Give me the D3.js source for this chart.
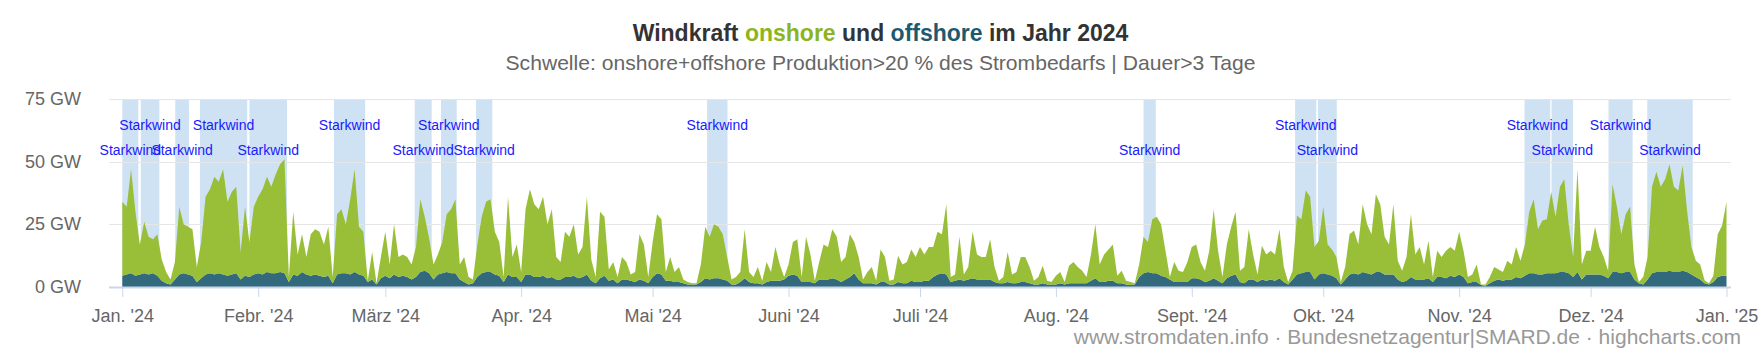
<!DOCTYPE html>
<html>
<head>
<meta charset="utf-8">
<script src="https://cdn.jsdelivr.net/npm/d3@7"></script>
<style>
  body { margin: 0; background: #fff; }
  svg { font-family: "Liberation Sans", Arial, sans-serif; display: block; }
</style>
</head>
<body>
<div id="chart"></div>
<script>

const startDate = '2024-01-01';

const offshore = [
  4.5, 5, 5.5, 4.5, 5, 5.5, 5, 5.5, 4.5, 2.5, 1.5, 1, 3, 5, 5.5, 5, 4.5, 2, 3.5, 5, 5.5, 5, 5.5, 5, 4.5, 5, 5.5, 3, 4.5, 4, 5,
  5.5, 5, 6, 5.5, 5.5, 6, 5.5, 2, 5, 4.5, 6, 5, 4.5, 5, 4.5, 4, 4.5, 1.5, 5, 5.5, 5.5, 5, 6, 5, 4.5, 2, 3, 1, 3.5,
  4.5, 3.5, 5, 4, 4.5, 4, 3, 4, 6, 6.5, 5.5, 3, 5, 5.5, 6, 5.5, 5.5, 3, 2, 1, 1.5, 4, 5.5, 6, 6, 5, 4.5, 2, 5, 4, 4,
  2, 5, 5, 4, 4, 4.5, 3.5, 4, 3, 3, 4, 4, 4.5, 3.5, 4, 5, 2.5, 1.5, 3.5, 4.5, 2.5, 3, 1.5, 3, 3, 2.5, 2, 3, 2.5, 1.5,
  4, 5.5, 5, 2.5, 2.5, 2, 2, 1.5, 1, 1, 1, 2, 3.5, 3, 3.5, 3.5, 3, 2.5, 1, 1, 2, 3.5, 2, 1.5, 1.5, 1, 2, 2.5, 2.5, 2.5, 3,
  4.5, 5, 4.5, 2, 2, 2, 1.5, 3, 3, 3, 3.5, 3, 2, 3, 4, 5.5, 3, 1.5, 1.5, 1.5, 1, 2, 2, 1, 1, 2, 1.5, 1.5, 2.5, 2,
  2, 2.5, 2.5, 4, 5, 5.5, 5, 2, 2.5, 3, 2.5, 3, 3.5, 3, 3, 3, 3, 2, 1.5, 1.5, 2, 1.5, 1.5, 2, 2, 1.5, 1, 1, 1.5, 1, 1,
  1, 1.5, 1, 1.5, 1.5, 1.5, 1.5, 1.5, 2.5, 3.5, 2, 2, 2.5, 2.5, 1.5, 1.5, 1, 0.8, 1, 4, 5.5, 6, 5.5, 5.5, 4.5, 4, 3, 2, 2, 2, 2,
  3.5, 3.5, 3, 2, 2.5, 3.5, 2.5, 1.5, 3.5, 4.5, 5, 2, 1.5, 3, 3, 2, 3, 2.5, 3, 2.5, 3.5, 2, 1, 3, 5, 5.5, 6, 6, 3, 5,
  5.5, 5, 4.5, 3.5, 1, 3, 5, 5.5, 5, 6, 5.5, 5, 6, 6, 5, 5, 5, 3, 2, 2.5, 4, 3, 3, 3, 3.5, 2, 4, 4, 3.5, 4.5, 4,
  5, 4, 1.5, 2, 2, 0.8, 0.5, 1.5, 2.5, 3, 2.5, 3, 3, 4, 3.5, 4.5, 5.5, 5.5, 5, 5, 5.5, 5.5, 5.5, 6, 6, 5.5, 4, 6, 3, 5, 5,
  5, 5, 4.5, 3.5, 6, 6, 5.5, 6, 6, 3, 1.5, 1, 3, 5.5, 6, 6, 6, 6.5, 6, 6, 6.5, 6, 5, 4, 3, 1.5, 1, 2, 4, 4.5, 4.5
];

const onshore = [
  29.5, 27, 41.5, 25.5, 12, 20.5, 15, 13.5, 16.5, 8.5, 4.5, 2, 7, 27, 19.5, 19, 18.5, 6, 14.5, 31, 33.5, 39, 36.5, 42, 29.5, 33, 34.5, 11, 27.5, 14, 27,
  30.5, 34, 38, 34.5, 39.5, 43, 45.5, 2, 25, 8.5, 15, 7, 16.5, 18, 17.5, 13, 19.5, 2.5, 24, 25.5, 19.5, 30, 41, 19, 17.5, 0.5, 11, 0.5, 8.5,
  17.5, 5.5, 20, 8, 8.5, 8, 6, 12, 29, 21.5, 14, 6, 8, 12.5, 23, 25.5, 29.5, 6, 10, 3, 1.5, 13, 22.5, 28, 29, 17, 13.5, 2, 31, 8, 13,
  4, 26, 34, 29, 27, 31.5, 21.5, 27, 9, 7, 18, 16, 20.5, 9.5, 12, 31, 8.5, 2.5, 26.5, 23.5, 4.5, 7, 2.5, 9, 7, 2.5, 4, 18, 14.5, 2.5,
  14, 23.5, 22, 3.5, 9.5, 4, 6, 1.5, 1, 0.5, 0.5, 7, 20.5, 17, 21.5, 20.5, 18, 9.5, 2, 3, 4, 19.5, 4, 2.5, 6.5, 1.5, 8, 3.5, 13.5, 6.5, 1,
  4.5, 13, 14.5, 2, 18, 11, 1, 7, 14, 13, 19.5, 17, 8, 9, 17, 12.5, 9, 1.5, 4.5, 6.5, 1.5, 13, 10, 1.5, 2, 10.5, 7.5, 8.5, 12.5, 10,
  14, 10.5, 13.5, 12, 17, 15.5, 28, 2, 2.5, 17, 2.5, 5, 18.5, 10, 9, 9, 16, 6, 1, 2.5, 12, 3.5, 4.5, 10, 10, 6.5, 1.5, 3, 7, 1.5, 1,
  3.5, 4.5, 1, 7, 8.5, 6.5, 5, 2.5, 10.5, 21.5, 7, 11, 12.5, 14.5, 3, 5, 1.5, 1.2, 0.5, 5, 14.5, 12, 21.5, 22.5, 20.5, 10.5, 1, 8, 4.5, 4, 8,
  12.5, 13.5, 7, 4.5, 12, 27.5, 12, 2.5, 13.5, 19.5, 25, 4.5, 6.5, 20, 10, 3, 13.5, 10.5, 11.5, 10.5, 19.5, 6, 1, 3.5, 23.5, 21.5, 32.5, 30, 13, 13.5,
  26.5, 12, 10.5, 8.5, 1, 5, 16, 17, 12, 27, 19.5, 16, 31, 27, 15, 12, 28, 7.5, 4.5, 9.5, 25, 10, 13, 6, 15, 2, 10.5, 8, 11, 11.5, 10.5,
  17, 10.5, 2.5, 3, 7, 0.2, 0.5, 2.5, 5.5, 4, 3.5, 7.5, 6, 12, 7, 12.5, 24.5, 29.5, 18, 21.5, 21.5, 32.5, 22.5, 34, 37, 19.5, 8, 41, 6, 9.5, 9.5,
  19, 11, 7.5, 3, 35, 26, 15.5, 23, 26, 6, 0.5, 3, 9, 34.5, 40, 34, 37, 42.5, 34, 32.5, 42, 24.5, 11, 6.5, 6, 1.2, 0.5, 2.5, 17, 20, 29.5
];

// Starkwind-Phasen (Schwelle >20 % des Strombedarfs, Dauer >3 Tage)
const starkwindStart = [
  '2024-01-01T00:00', '2024-01-05T05:00', '2024-01-13T02:00', '2024-01-18T17:00', '2024-01-30T00:00',
  '2024-02-18T07:00', '2024-03-07T17:00', '2024-03-13T17:00', '2024-03-21T17:00', '2024-05-13T10:00',
  '2024-08-21T00:00', '2024-09-24T14:00', '2024-09-29T19:00', '2024-11-15T22:00', '2024-11-22T02:00',
  '2024-12-05T02:00', '2024-12-13T22:00'
];
const starkwindEnd = [
  '2024-01-04T16:00', '2024-01-09T11:00', '2024-01-16T05:00', '2024-01-29T12:00', '2024-02-07T14:00',
  '2024-02-25T10:00', '2024-03-11T14:00', '2024-03-17T07:00', '2024-03-25T10:00', '2024-05-18T02:00',
  '2024-08-23T19:00', '2024-09-29T10:00', '2024-10-04T02:00', '2024-11-21T19:00', '2024-11-27T00:00',
  '2024-12-10T14:00', '2024-12-24T07:00'
];

const monthLabels = ["Jan. '24", "Febr. '24", "März '24", "Apr. '24", "Mai '24", "Juni '24", "Juli '24",
  "Aug. '24", "Sept. '24", "Okt. '24", "Nov. '24", "Dez. '24", "Jan. '25"];
const yTicks = [0, 25, 50, 75];

const colOnshore = '#98bf37';
const colOffshore = '#33697d';

const W = 1761, H = 352;
const plotLeft = 109, plotRight = 1731, plotTop = 99, plotBottom = 287;

const parse = d3.utcParse('%Y-%m-%dT%H:%M');
const day0 = d3.utcParse('%Y-%m-%d')(startDate);

const data = onshore.map((v, i) => ({
  date: d3.utcDay.offset(day0, i),
  onshore: v,
  offshore: offshore[i]
}));

const x = d3.scaleUtc()
  .domain([day0, d3.utcYear.offset(day0, 1)])
  .range([122.3, 1726.5]);
const y = d3.scaleLinear().domain([0, 75]).range([plotBottom, plotTop]);

const svg = d3.select('#chart').append('svg')
  .attr('width', W)
  .attr('height', H);

// Titel
const title = svg.append('text')
  .attr('x', W / 2)
  .attr('y', 41)
  .attr('text-anchor', 'middle')
  .style('font-size', '23px')
  .style('font-weight', '700')
  .style('fill', '#333');
title.append('tspan').text('Windkraft ');
title.append('tspan').style('fill', '#8cb41c').text('onshore');
title.append('tspan').text(' und ');
title.append('tspan').style('fill', '#1d5a70').text('offshore');
title.append('tspan').text(' im Jahr 2024');

svg.append('text')
  .attr('x', W / 2)
  .attr('y', 70)
  .attr('text-anchor', 'middle')
  .style('font-size', '21.1px')
  .style('fill', '#666')
  .text('Schwelle: onshore+offshore Produktion>20 % des Strombedarfs | Dauer>3 Tage');

// Starkwind-Bänder
const bands = svg.append('g');
starkwindStart.forEach((s, i) => {
  const x0 = x(parse(s)), x1 = x(parse(starkwindEnd[i]));
  bands.append('rect')
    .attr('x', x0)
    .attr('y', plotTop)
    .attr('width', x1 - x0)
    .attr('height', plotBottom - plotTop)
    .attr('fill', '#cfe2f4');
});

// Gitterlinien
svg.append('g')
  .selectAll('line')
  .data(yTicks.slice(1))
  .join('line')
  .attr('x1', plotLeft)
  .attr('x2', plotRight)
  .attr('y1', d => Math.round(y(d)) + 0.5)
  .attr('y2', d => Math.round(y(d)) + 0.5)
  .attr('stroke', '#e6e6e6')
  .attr('stroke-width', 1);

// Flächen (gestapelt: offshore unten, onshore oben)
const stack = d3.stack().keys(['offshore', 'onshore']);
const series = stack(data);

const area = d3.area()
  .x(d => x(d.data.date))
  .y0(d => y(d[0]))
  .y1(d => y(d[1]));

svg.append('g')
  .selectAll('path')
  .data(series)
  .join('path')
  .attr('d', area)
  .attr('fill', d => d.key === 'onshore' ? colOnshore : colOffshore);

// Band-Beschriftungen
starkwindStart.forEach((s, i) => {
  const xc = (x(parse(s)) + x(parse(starkwindEnd[i]))) / 2;
  svg.append('text')
    .attr('x', xc)
    .attr('y', i % 2 === 0 ? 155 : 130)
    .attr('text-anchor', 'middle')
    .style('font-size', '14px')
    .style('fill', '#1a1aff')
    .text('Starkwind');
});

// X-Achse
const monthDates = d3.utcMonth.range(day0, d3.utcDay.offset(d3.utcYear.offset(day0, 1), 1));
const xAxis = svg.append('g')
  .attr('transform', `translate(0,${plotBottom})`)
  .call(d3.axisBottom(x).tickValues(monthDates).tickFormat((d, i) => monthLabels[i]).tickSize(10).tickPadding(12));
xAxis.select('.domain').remove();
xAxis.append('line')
  .attr('x1', plotLeft).attr('x2', plotRight)
  .attr('y1', 0.5).attr('y2', 0.5)
  .attr('stroke', '#ccd6eb')
  .attr('stroke-width', 2);
xAxis.selectAll('.tick line').attr('stroke', '#ccd6eb');
xAxis.selectAll('.tick text')
  .style('font-size', '18px')
  .style('fill', '#666')
  .attr('font-family', null);

// Y-Achse
svg.append('g')
  .selectAll('text')
  .data(yTicks)
  .join('text')
  .attr('x', 81)
  .attr('y', d => y(d) + 6)
  .attr('text-anchor', 'end')
  .style('font-size', '18px')
  .style('fill', '#666')
  .text(d => d + ' GW');

// Quelle
svg.append('text')
  .attr('x', 1741)
  .attr('y', 344)
  .attr('text-anchor', 'end')
  .style('font-size', '21px')
  .style('fill', '#999')
  .text('www.stromdaten.info · Bundesnetzagentur|SMARD.de · highcharts.com');
</script>
</body>
</html>
